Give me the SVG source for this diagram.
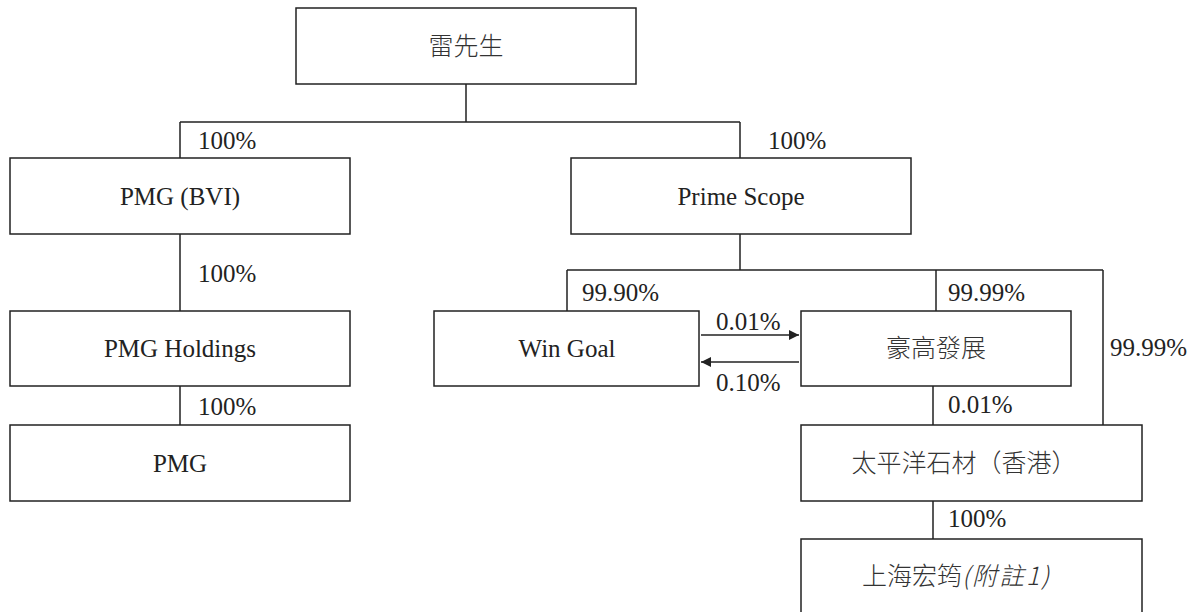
<svg xmlns="http://www.w3.org/2000/svg" width="1198" height="612" viewBox="0 0 1198 612">
<style>
.box{fill:#fff;stroke:#222;stroke-width:1.5}
.ln{fill:none;stroke:#222;stroke-width:1.5}
.t{font-family:"Liberation Serif","Noto Sans CJK TC",serif;font-size:25px;fill:#222}
.c{font-family:"Noto Sans CJK TC",serif;font-size:25px;fill:#333;font-weight:300}
.m{text-anchor:middle}
</style>
<defs>
<marker id="ah" viewBox="0 0 10 10" refX="10" refY="5" markerWidth="10" markerHeight="10" markerUnits="userSpaceOnUse" orient="auto">
<path d="M0,0 L10,5 L0,10 Z" fill="#222"/>
</marker>
</defs>
<rect width="1198" height="612" fill="#fff"/>
<g id="connectors">
<path class="ln" d="M466,84 V122 M180,122 H740 M180,122 V158 M740,122 V158"/>
<path class="ln" d="M180,234 V311 M180,386 V425"/>
<path class="ln" d="M740,234 V270 M567,270 H1103 M567,270 V311 M936,270 V311 M1103,270 V425"/>
<path class="ln" d="M933,386 V425 M933,501 V539"/>
<path class="ln" d="M701,335 H799" marker-end="url(#ah)"/>
<path class="ln" d="M799,362 H701" marker-end="url(#ah)"/>
<text class="t" x="198" y="149">100%</text>
<text class="t" x="768" y="149">100%</text>
<text class="t" x="198" y="282">100%</text>
<text class="t" x="198" y="415">100%</text>
<text class="t" x="582" y="301">99.90%</text>
<text class="t" x="948" y="301">99.99%</text>
<text class="t" x="1110" y="356">99.99%</text>
<text class="t" x="716" y="330">0.01%</text>
<text class="t" x="716" y="391">0.10%</text>
<text class="t" x="948" y="413">0.01%</text>
<text class="t" x="948" y="527">100%</text>
</g>
<g id="n-lei"><rect class="box" x="296" y="8" width="340" height="76"/><text class="c m" x="466" y="55">雷先生</text></g>
<g id="n-pmgbvi"><rect class="box" x="10" y="158" width="340" height="76"/><text class="t m" x="180" y="205">PMG (BVI)</text></g>
<g id="n-pmgh"><rect class="box" x="10" y="311" width="340" height="75"/><text class="t m" x="180" y="357">PMG Holdings</text></g>
<g id="n-pmg"><rect class="box" x="10" y="425" width="340" height="76"/><text class="t m" x="180" y="472">PMG</text></g>
<g id="n-prime"><rect class="box" x="571" y="158" width="340" height="76"/><text class="t m" x="741" y="205">Prime Scope</text></g>
<g id="n-win"><rect class="box" x="434" y="311" width="265" height="75"/><text class="t m" x="567" y="357">Win Goal</text></g>
<g id="n-hg"><rect class="box" x="801" y="311" width="270" height="75"/><text class="c m" x="936" y="357">豪高發展</text></g>
<g id="n-tpy"><rect class="box" x="801" y="425" width="341" height="76"/><text class="c m" x="964" y="472">太平洋石材（香港）</text></g>
<g id="n-sh"><rect class="box" x="801" y="539" width="341" height="90"/><text class="c" x="862" y="585">上海宏筠<tspan font-style="italic" letter-spacing="2">(附註1)</tspan></text></g>
</svg>
